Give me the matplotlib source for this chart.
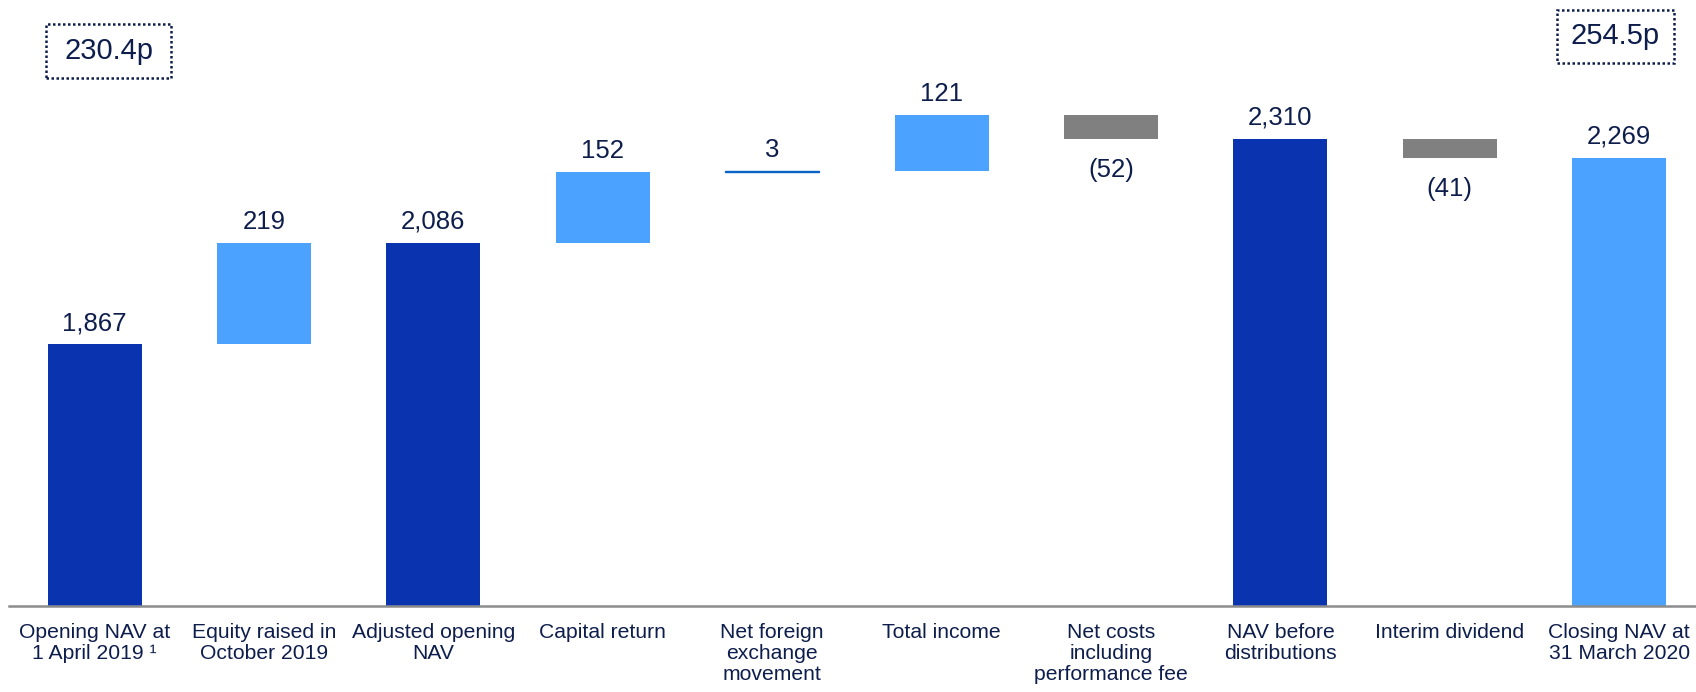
import matplotlib
matplotlib.use("Agg")
import matplotlib.pyplot as plt
from matplotlib.patches import Rectangle

plt.rcParams['font.family'] = ['Liberation Sans', 'DejaVu Sans']

# NAV bridge (£m)
categories = [
    "Opening NAV at\n1 April 2019 \u00b9",
    "Equity raised in\nOctober 2019",
    "Adjusted opening\nNAV",
    "Capital return",
    "Net foreign\nexchange\nmovement",
    "Total income",
    "Net costs\nincluding\nperformance fee",
    "NAV before\ndistributions",
    "Interim dividend",
    "Closing NAV at\n31 March 2020",
]
# 'total' bars start at the baseline, 'step' bars float on the running total
kinds = ["total", "step", "total", "step", "step", "step", "step", "total", "step", "total"]
values = [1867, 219, 2086, 152, 3, 121, -52, 2310, -41, 2269]
labels = ["1,867", "219", "2,086", "152", "3", "121", "(52)", "2,310", "(41)", "2,269"]
nav_per_share = ["230.4p", "254.5p"]

DARK = "#0A33B0"
LIGHT = "#4BA3FF"
GREY = "#808080"
FX = "#0A64C8"
TEXT = "#0E1E4C"

fig = plt.figure(figsize=(16.96, 6.92), dpi=100)
W, H = 1696, 692
ax_left, ax_bottom = 9 / W, 1 - 606 / H
ax = fig.add_axes([ax_left, ax_bottom, 1 - ax_left, 1 - ax_bottom])

unit = 169.4
x0 = -(94.6 - 9) / unit
ax.set_xlim(x0, x0 + (W - 9) / unit)
ybase = 1303
ax.set_ylim(ybase, ybase + 606 / 0.4639)

running = 0
closing_colour = {0: DARK, 2: DARK, 7: DARK, 9: LIGHT}
for i, (kind, v, lab) in enumerate(zip(kinds, values, labels)):
    if kind == "total":
        bottom, height = ybase, v - ybase
        running = v
        colour = closing_colour[i]
        top = v
    else:
        bottom = running if v >= 0 else running + v
        height = abs(v)
        if v < 0:
            colour = GREY
        elif abs(v) < 10:
            colour = FX
        else:
            colour = LIGHT
        running += v
        top = bottom + height
    ax.bar(i, height, bottom=bottom, width=0.555, color=colour,
           edgecolor=colour if abs(v) < 10 else "none", linewidth=1.0, zorder=2)
    if v >= 0:
        ax.annotate(lab, (i, top), xytext=(0, 6.5), textcoords="offset points",
                    ha="center", va="bottom", fontsize=18.5, color=TEXT)
    else:
        ax.annotate(lab, (i, bottom), xytext=(0, -14), textcoords="offset points",
                    ha="center", va="top", fontsize=18.5, color=TEXT)

for s in ("top", "right", "left"):
    ax.spines[s].set_visible(False)
ax.spines["bottom"].set_color("#8C8C8C")
ax.spines["bottom"].set_linewidth(1.8)
ax.set_yticks([])
ax.set_xticks(range(len(categories)))
ax.set_xticklabels(categories, fontsize=15.2, color=TEXT, linespacing=1.13)
ax.tick_params(axis="x", length=0, pad=12)

# NAV per share boxes
for (x, y, w, h), txt in zip([(46, 24, 125, 54), (1557, 10, 117, 53)], nav_per_share):
    fig.patches.append(Rectangle((x / W, 1 - (y + h) / H), w / W, h / H,
                                 transform=fig.transFigure, fill=False,
                                 edgecolor=TEXT, linewidth=1.8, linestyle=(0, (1, 1))))
    fig.text((x + w / 2) / W, 1 - (y + h / 2) / H, txt, ha="center", va="center",
             fontsize=21, color=TEXT)

fig.savefig("out.png", dpi=100)
